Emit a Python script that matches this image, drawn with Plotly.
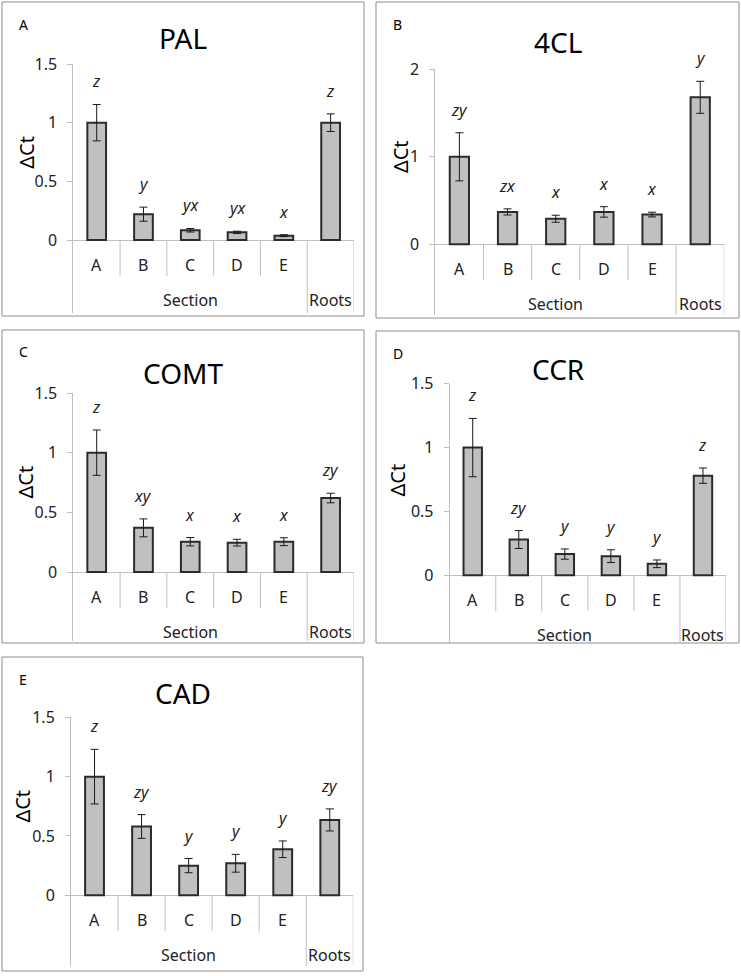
import plotly.graph_objects as go

# ---------------- data ----------------
categories = ["A", "B", "C", "D", "E", "Roots"]
group_labels = ["Section", "Roots"]
panel_letters = ["A", "B", "C", "D", "E"]
genes = ["PAL", "4CL", "COMT", "CCR", "CAD"]

pal_values = [1.0, 0.22, 0.083, 0.065, 0.037, 1.0]
pal_errors = [0.155, 0.06, 0.015, 0.01, 0.008, 0.075]
pal_letters = ["z", "y", "yx", "yx", "x", "z"]

cl4_values = [1.0, 0.37, 0.292, 0.37, 0.34, 1.68]
cl4_errors = [0.275, 0.035, 0.04, 0.06, 0.027, 0.183]
cl4_letters = ["zy", "zx", "x", "x", "x", "y"]

comt_values = [1.0, 0.37, 0.254, 0.246, 0.254, 0.62]
comt_errors = [0.19, 0.075, 0.035, 0.028, 0.033, 0.04]
comt_letters = ["z", "xy", "x", "x", "x", "zy"]

ccr_values = [1.0, 0.28, 0.166, 0.15, 0.09, 0.78]
ccr_errors = [0.228, 0.07, 0.04, 0.05, 0.03, 0.06]
ccr_letters = ["z", "zy", "y", "y", "y", "z"]

cad_values = [1.0, 0.58, 0.25, 0.27, 0.388, 0.635]
cad_errors = [0.23, 0.1, 0.06, 0.075, 0.07, 0.093]
cad_letters = ["z", "zy", "y", "y", "y", "zy"]

y_max = [1.5, 2, 1.5, 1.5, 1.5]
y_ticks = [[0, 0.5, 1, 1.5], [0, 1, 2], [0, 0.5, 1, 1.5], [0, 0.5, 1, 1.5], [0, 0.5, 1, 1.5]]

series = [
    (pal_values, pal_errors, pal_letters),
    (cl4_values, cl4_errors, cl4_letters),
    (comt_values, comt_errors, comt_letters),
    (ccr_values, ccr_errors, ccr_letters),
    (cad_values, cad_errors, cad_letters),
]

# ---------------- layout geometry (pixels) ----------------
W, H = 741, 976
# box: (left, top, right, bottom); plot: (left, right, top_of_axis, zero, bottom)
panels = [
    dict(box=(2, 2, 364, 316), plot=(73.3, 354, 64, 240, 313), title_y=38, ytitle_x=26.7),
    dict(box=(376, 2, 739, 318), plot=(435.3, 724.3, 69.3, 244.3, 315), title_y=42, ytitle_x=400.3),
    dict(box=(2, 330, 364, 643), plot=(73.3, 354, 393, 572, 641), title_y=373, ytitle_x=25),
    dict(box=(376, 331, 739, 643), plot=(449.7, 726, 383.7, 575.3, 642), title_y=368.5, ytitle_x=397),
    dict(box=(2, 657, 363, 971), plot=(71, 353.3, 717.3, 895.3, 966), title_y=693, ytitle_x=22.3),
]

FONT = "Noto Sans"
AXIS_GRAY = "#bfbfbf"


def px(x):
    return x / W


def py(y):
    return 1 - y / H


fig = go.Figure()
shapes = []
annotations = []

for i, (pan, (vals, errs, lets)) in enumerate(zip(panels, series)):
    n = "" if i == 0 else str(i + 1)
    xa, ya = "x" + n, "y" + n
    left, right, top, zero, bottom = pan["plot"]
    ymax = y_max[i]
    ymin = -ymax * (bottom - zero) / (zero - top)

    xpos = list(range(len(categories)))
    fig.add_trace(go.Bar(
        x=xpos, y=vals, width=0.4,
        marker=dict(color="#c0c0c0", line=dict(color="#2b2b2b", width=2)),
        error_y=dict(type="data", array=errs, visible=True, color="#1a1a1a", thickness=1, width=4),
        xaxis=xa, yaxis=ya, showlegend=False, hoverinfo="skip",
    ))

    fig.layout["xaxis" + n] = dict(
        domain=[px(left), px(right)], range=[-0.5, len(categories) - 0.5],
        showticklabels=False, showgrid=False, zeroline=False, showline=False,
        anchor=ya, fixedrange=True, automargin=False,
    )
    fig.layout["yaxis" + n] = dict(
        domain=[py(bottom), py(top)], range=[ymin, ymax],
        tickvals=y_ticks[i], ticks="outside", ticklen=5, tickcolor=AXIS_GRAY,
        showline=True, linecolor=AXIS_GRAY, linewidth=1,
        showgrid=False, zeroline=True, zerolinecolor=AXIS_GRAY, zerolinewidth=1,
        tickfont=dict(family=FONT, size=16, color="#222"),
        ticklabelstandoff=7,
        anchor=xa, fixedrange=True, automargin=False,
    )

    # panel border
    bl, bt, br, bb = pan["box"]
    shapes.append(dict(type="rect", xref="paper", yref="paper",
                       x0=px(bl), x1=px(br), y0=py(bb), y1=py(bt),
                       line=dict(color="#8c8c8c", width=1)))
    # category dividers (short)
    for k in range(len(categories) - 2):
        shapes.append(dict(type="line", xref=xa, yref="paper",
                           x0=k + 0.5, x1=k + 0.5, y0=py(zero), y1=py(zero + 36),
                           line=dict(color=AXIS_GRAY, width=1)))
    # group dividers (long)
    for xk in (len(categories) - 1.5, len(categories) - 0.5):
        shapes.append(dict(type="line", xref=xa, yref="paper",
                           x0=xk, x1=xk, y0=py(zero), y1=py(bottom),
                           line=dict(color=AXIS_GRAY, width=1)))

    # category labels
    for k, c in enumerate(categories[:-1]):
        annotations.append(dict(xref=xa, yref=ya, x=k, y=0, yshift=-25,
                                text=c, showarrow=False, xanchor="center", yanchor="middle",
                                font=dict(family=FONT, size=16, color="#222")))
    annotations.append(dict(xref=xa, yref=ya, x=(len(categories) - 2) / 2, y=0, yshift=-60,
                            text=group_labels[0], showarrow=False, yanchor="middle",
                            font=dict(family=FONT, size=16, color="#222")))
    annotations.append(dict(xref=xa, yref=ya, x=len(categories) - 1, y=0, yshift=-60,
                            text=group_labels[1], showarrow=False, yanchor="middle",
                            font=dict(family=FONT, size=16, color="#222")))

    # significance letters
    for k, (v, e, l) in enumerate(zip(vals, errs, lets)):
        annotations.append(dict(xref=xa, yref=ya, x=k, y=v + e, yshift=23,
                                text="<i>" + l + "</i>", showarrow=False, yanchor="middle",
                                font=dict(family=FONT, size=16, color="#222")))

    # title
    annotations.append(dict(xref="paper", yref="paper", x=px((bl + br) / 2), y=py(pan["title_y"]),
                            text=genes[i], showarrow=False, xanchor="center", yanchor="middle",
                            font=dict(family=FONT, size=28, color="#000")))
    # panel letter
    annotations.append(dict(xref="paper", yref="paper", x=px(bl + 15), y=py(bt + 22),
                            text=panel_letters[i], showarrow=False, xanchor="left", yanchor="middle",
                            font=dict(family=FONT, size=14, color="#000")))
    # y title
    annotations.append(dict(xref="paper", yref=ya, x=px(pan["ytitle_x"]), y=ymax / 2,
                            text="ΔCt", showarrow=False, textangle=-90,
                            xanchor="center", yanchor="middle",
                            font=dict(family=FONT, size=20, color="#000")))

fig.update_layout(
    width=W, height=H, margin=dict(l=0, r=0, t=0, b=0, pad=0, autoexpand=False),
    paper_bgcolor="white", plot_bgcolor="white",
    shapes=shapes, annotations=annotations, bargap=0.6, showlegend=False,
)

fig.write_html("out.html", config={"displayModeBar": False},
               post_script="document.body.style.margin='0';document.body.style.overflow='hidden';")
